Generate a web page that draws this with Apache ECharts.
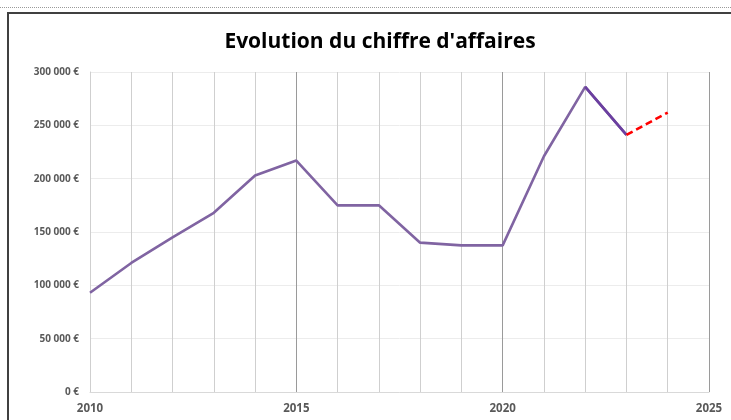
<!DOCTYPE html>
<html>
<head>
<meta charset="utf-8">
<script src="https://cdn.jsdelivr.net/npm/echarts@6/dist/echarts.min.js"></script>
<style>
  html, body { margin: 0; padding: 0; background: #fff; }
  #chart { width: 731px; height: 420px; }
</style>
</head>
<body>
<div id="chart"></div>
<script>
// données
const years = [2010, 2011, 2012, 2013, 2014, 2015, 2016, 2017, 2018, 2019, 2020, 2021, 2022, 2023]
const revenue = [93000, 121000, 145000, 168000, 203000, 217000, 175000, 175000, 140000, 137500, 137500, 221000, 286000, 241000]
const forecastYears = [2023, 2024]
const forecast = [241000, 262000]
const xTicks = [2010, 2015, 2020, 2025]

const fmtEuro = v => (v === 0 ? '0' : String(v).replace(/\B(?=(\d{3})+(?!\d))/g, ' ')) + ' €'

const chart = echarts.init(document.getElementById('chart'))

const main = years.map((y, i) => [y, revenue[i]])
const lastSeg = main.slice(-2)
const fc = forecastYears.map((y, i) => [y, forecast[i]])

chart.setOption({
  animation: false,
  title: {
    text: "Evolution du chiffre d'affaires",
    left: 375,
    textAlign: 'center',
    top: 27,
    textStyle: { fontFamily: 'Open Sans', fontWeight: 'bold', fontSize: 21, color: '#000' }
  },
  grid: { left: 90, right: 22, top: 72, bottom: 28 },
  xAxis: {
    type: 'value',
    min: xTicks[0],
    max: xTicks[xTicks.length - 1],
    interval: 5,
    axisLine: { show: true, lineStyle: { color: '#d9d9d9' } },
    axisTick: { show: false },
    axisLabel: {
      formatter: v => String(v),
      color: '#595959', fontFamily: 'Open Sans', fontWeight: 'bold', fontSize: 11.5,
      margin: 11, showMaxLabel: true
    },
    splitLine: { show: true, lineStyle: { color: '#9a9a9a' } },
    minorTick: { show: false, splitNumber: 5 },
    minorSplitLine: { show: true, lineStyle: { color: '#cfcfcf' } }
  },
  yAxis: {
    type: 'value',
    min: 0,
    max: 300000,
    interval: 50000,
    axisLine: { show: true, lineStyle: { color: '#cfcfcf' } },
    axisTick: { show: false },
    axisLabel: {
      formatter: fmtEuro,
      color: '#595959', fontFamily: 'Open Sans', fontWeight: 'bold', fontSize: 10,
      margin: 11
    },
    splitLine: { show: true, lineStyle: { color: '#ececec' } }
  },
  series: [
    {
      name: "Chiffre d'affaires",
      type: 'line',
      data: main,
      symbol: 'none',
      lineStyle: { color: '#8064a2', width: 2.6 }
    },
    {
      name: '2022-2023',
      type: 'line',
      data: lastSeg,
      symbol: 'none',
      lineStyle: { color: '#6b3fa0', width: 2.6 }
    },
    {
      name: 'Prévision',
      type: 'line',
      data: fc,
      symbol: 'none',
      lineStyle: { color: '#ff0000', width: 2.6, type: [7, 4] }
    }
  ],
  graphic: [
    { type: 'line', shape: { x1: 0, y1: 7.5, x2: 731, y2: 7.5 }, style: { stroke: '#9a9a9a', lineWidth: 1, lineDash: [1, 1] } },
    { type: 'polyline', shape: { points: [[8, 420], [8, 13], [731, 13]] }, style: { stroke: '#404040', lineWidth: 2, fill: null } }
  ]
})

window.addEventListener('resize', () => chart.resize())
</script>
</body>
</html>
